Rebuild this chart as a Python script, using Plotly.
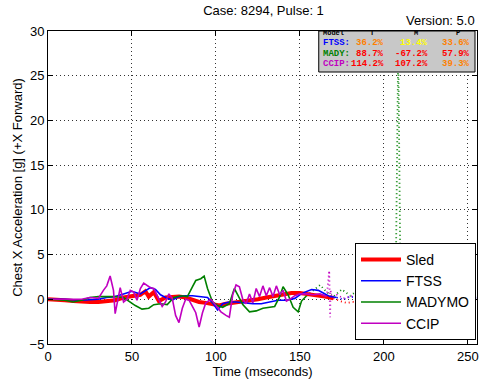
import plotly.graph_objects as go

# Sled (thick red), solid part
sled_t = [0, 5, 10, 15, 20, 25, 30, 35, 40, 45, 50, 55, 58, 60, 63, 66, 70, 74, 78, 82, 86, 90, 94,
          98, 102, 106, 110, 115, 120, 125, 130, 135, 140, 145, 150, 155, 160, 165, 170]
sled_g = [0, 0, -0.1, -0.2, -0.3, -0.3, -0.3, -0.2, -0.1, 0.2, 0.3, 0.5, 0.9, 0.3, 0.8, -0.2, 0.2, 0.3,
          0.3, 0.2, -0.1, -0.3, -0.4, -0.5, -0.7, -0.5, -0.4, -0.3, -0.2, 0.0, 0.2, 0.4, 0.6, 0.7, 0.7,
          0.6, 0.5, 0.3, 0.1]
sled_tail_t = [170, 174, 178, 182, 186, 190, 200, 210, 220, 230, 240, 250, 255]
sled_tail_g = [0.1, -0.2, -0.4, -0.3, -0.5, -0.3, -0.4, -0.3, -0.4, -0.3, -0.2, -0.1, 0.0]

ftss_t = [0, 10, 20, 30, 35, 40, 45, 50, 55, 58, 61, 64, 67, 70, 74, 78, 82, 86, 90, 95, 98, 101, 104,
          108, 112, 117, 122, 127, 132, 137, 142, 147, 150, 153, 157, 161, 165, 168, 172]
ftss_g = [0, 0, -0.1, 0, 0.2, 0.3, 0.6, 0.9, 0.6, 1.0, 1.3, 1.1, 0.5, 0.2, -0.1, 0.3, 0.4, 0.4, 0.3,
          0.2, -0.4, -1.2, -0.5, -0.3, -0.3, -0.4, -0.5, -0.5, -0.3, -0.1, -0.1, 0.1, 0.5, 0.8, 1.1,
          1.0, 0.6, 0.3, 0.2]
ftss_tail_t = [172, 176, 180, 185, 190, 200, 210, 220, 230, 240, 250, 255]
ftss_tail_g = [0.2, 0.0, 0.3, 0.1, 0.3, 0.1, 0.2, 0.0, 0.1, 0.0, 0.1, 0.2]

mady_t = [0, 10, 15, 20, 25, 30, 35, 40, 45, 48, 52, 56, 60, 63, 67, 71, 75, 79, 83, 86, 88, 91, 93,
          95, 98, 101, 104, 108, 111, 113, 116, 120, 124, 128, 132, 135, 138, 140, 143, 146, 149, 151, 154]
mady_g = [0, -0.1, -0.3, -0.1, 0.2, 0.3, 0.3, 0.3, 0.2, -0.2, -0.7, -1.1, -1.0, -0.6, -0.5, -0.6, 0.2,
          0.4, 0.3, 1.4, 2.1, 2.3, 2.6, 1.2, -0.3, -0.7, -0.9, -0.5, 1.2, 0.5, -0.6, -1.4, -1.3, -1.0,
          -0.9, -0.8, 0.3, 1.4, 0.5, -0.9, -1.4, -0.2, 0.4]
mady_tail_t = [154, 158, 162, 166, 170, 175, 180, 186, 192, 200, 205, 207, 208.6, 210, 215, 225, 240, 255]
mady_tail_g = [0.4, 1.0, 1.6, 0.8, 0.3, 1.1, 0.4, 1.2, 0.2, 0.3, 0.2, 0.1, 28.5, 0.2, 0.1, 0.0, 0.1, 0.3]

ccip_t = [0, 10, 20, 25, 30, 33, 35, 37, 39, 40, 42, 43, 45, 47, 49, 51, 53, 55, 57, 59, 61, 63, 65, 68,
          70, 72, 74, 76, 78, 80, 82, 84, 86, 88, 90, 92, 94, 97, 100, 103, 106, 108, 110, 112, 114, 116,
          118, 120, 122, 124, 126, 128, 130, 132, 134, 136, 138, 140, 142, 144, 147, 150, 154, 158, 162, 166]
ccip_g = [0, 0, 0, 0.2, 0.1, 1.0, 1.5, 2.6, 1.0, -1.6, 0.5, 1.3, -0.3, 0, 1.0, 0.8, -0.1, 1.2, 1.8, 1.5,
          1.3, 1.2, 0.4, -0.8, -0.3, 0.6, 0.1, -1.8, -2.6, -1.0, 0.0, -0.1, -0.8, -1.5, -3.1, -1.5, -0.4,
          0.0, -0.7, -1.4, -1.8, -2.0, 0.5, 1.6, 1.4, 0.0, -0.5, 0.6, -0.4, 1.2, 0.3, 1.5, 0.4, 1.3, 0.3,
          1.5, 0.5, 1.0, -0.2, 0.0, 0.4, 0.6, 0.6, 0.5, 0.6, 0.3]
ccip_tail_t = [166, 167.5, 168, 168.3, 169, 172, 176, 182, 190, 200, 220, 240, 255]
ccip_tail_g = [0.3, 3.2, -2.0, 1.0, 0.2, 0.5, 0.1, 0.4, 0.0, 0.2, 0.1, 0.0, 0.1]

# score table
table_models = ["FTSS:", "MADY:", "CCIP:"]
table_model_colors = ["#0000ff", "#008000", "#c000c0"]
table_header = ["Model", "T", "M", "P"]
table_values = [["36.2%", "13.4%", "33.6%"],
                ["88.7%", "-67.2%", "57.9%"],
                ["114.2%", "107.2%", "39.3%"]]
table_colors = [["#ff8000", "#ffff00", "#ff8000"],
                ["#ff0000", "#ff0000", "#ff0000"],
                ["#ff0000", "#ff0000", "#ff8000"]]

W, H = 486, 383
L, R, T, B = 48, 7, 31, 39
font = "Liberation Sans, Arial, sans-serif"
mono = "Liberation Mono, Courier New, monospace"

fig = go.Figure()

series = [
    ("Sled", sled_t, sled_g, sled_tail_t, sled_tail_g, "#ff0000", 4),
    ("FTSS", ftss_t, ftss_g, ftss_tail_t, ftss_tail_g, "#0000ff", 1.6),
    ("MADYMO", mady_t, mady_g, mady_tail_t, mady_tail_g, "#008000", 1.6),
    ("CCIP", ccip_t, ccip_g, ccip_tail_t, ccip_tail_g, "#c000c0", 1.6),
]
for name, t, g, tt, tg, color, width in series:
    fig.add_trace(go.Scatter(x=tt, y=tg, mode="lines", showlegend=False,
                             line=dict(color=color, width=1.8, dash="1px,3px")))
for name, t, g, tt, tg, color, width in series:
    fig.add_trace(go.Scatter(x=t, y=g, mode="lines", name=name,
                             line=dict(color=color, width=width)))

# table background
fig.add_shape(type="rect", xref="paper", yref="paper",
              x0=(320 - L) / (W - L - R), x1=(477 - L) / (W - L - R),
              y0=(H - B - 72) / (H - T - B), y1=1.0,
              fillcolor="#c8c8c8", line=dict(color="black", width=1), layer="above")


def px_to_paper(px, py):
    return (px - L) / (W - L - R), (H - B - py) / (H - T - B)


row_y = [33, 43, 53.5, 64]
col_right = [388, 432, 474]
hx, hy = px_to_paper(322, row_y[0])
fig.add_annotation(x=hx, y=hy, xref="paper", yref="paper", text="<b>" + table_header[0] + "</b>",
                   showarrow=False, xanchor="left", yanchor="middle",
                   font=dict(family=mono, size=7, color="black"))
for j, h in enumerate(table_header[1:]):
    cx, _ = px_to_paper(col_right[j] - 14, row_y[0])
    fig.add_annotation(x=cx, y=hy, xref="paper", yref="paper", text="<b>" + h + "</b>",
                       showarrow=False, xanchor="center", yanchor="middle",
                       font=dict(family=mono, size=7, color="black"))
for i, m in enumerate(table_models):
    mx, my = px_to_paper(322, row_y[i + 1])
    fig.add_annotation(x=mx, y=my, xref="paper", yref="paper", text="<b>" + m + "</b>",
                       showarrow=False, xanchor="left", yanchor="middle",
                       font=dict(family=mono, size=9, color=table_model_colors[i]))
    for j, v in enumerate(table_values[i]):
        vx, vy = px_to_paper(col_right[j], row_y[i + 1])
        fig.add_annotation(x=vx, y=vy, xref="paper", yref="paper", text="<b>" + v + "</b>",
                           showarrow=False, xanchor="right", yanchor="middle",
                           font=dict(family=mono, size=9, color=table_colors[i][j]))

fig.add_annotation(x=1.0, y=1.0, xref="paper", yref="paper", text="Version: 5.0",
                   showarrow=False, xanchor="right", yanchor="bottom", yshift=1,
                   font=dict(family=font, size=13, color="black"))

axis_common = dict(showline=True, linecolor="black", linewidth=1, mirror="ticks",
                   ticks="inside", ticklen=5, tickcolor="black", showgrid=True,
                   gridcolor="rgba(0,0,0,0.8)", griddash="1px,3px", gridwidth=1, zeroline=False,
                   tickfont=dict(family=font, size=13, color="black"))

fig.update_layout(
    width=W, height=H,
    margin=dict(l=L, r=R, t=T, b=B),
    paper_bgcolor="white", plot_bgcolor="white",
    font=dict(family=font, size=13, color="black"),
    title=dict(text="Case: 8294, Pulse: 1", x=(L + (W - L - R) / 2) / W, xanchor="center",
               y=1 - 10 / H, yanchor="middle", font=dict(family=font, size=13)),
    xaxis=dict(range=[0, 255.5], tickvals=[0, 50, 100, 150, 200, 250],
               title=dict(text="Time (mseconds)", standoff=2, font=dict(size=13)),
               **axis_common),
    yaxis=dict(range=[-5, 30], tickvals=[-5, 0, 5, 10, 15, 20, 25, 30],
               title=dict(text="Chest X Acceleration [g] (+X Forward)", standoff=4, font=dict(size=13)),
               **axis_common),
    legend=dict(x=1 - 1 / (W - L - R), y=4 / (H - T - B), xanchor="right", yanchor="bottom",
                bgcolor="white", bordercolor="black", borderwidth=1,
                font=dict(family=font, size=14), tracegroupgap=0, itemwidth=40),
)

fig.write_html("out.html", config={"displayModeBar": False},
               post_script="document.body.style.margin='0';document.body.style.overflow='hidden';")
